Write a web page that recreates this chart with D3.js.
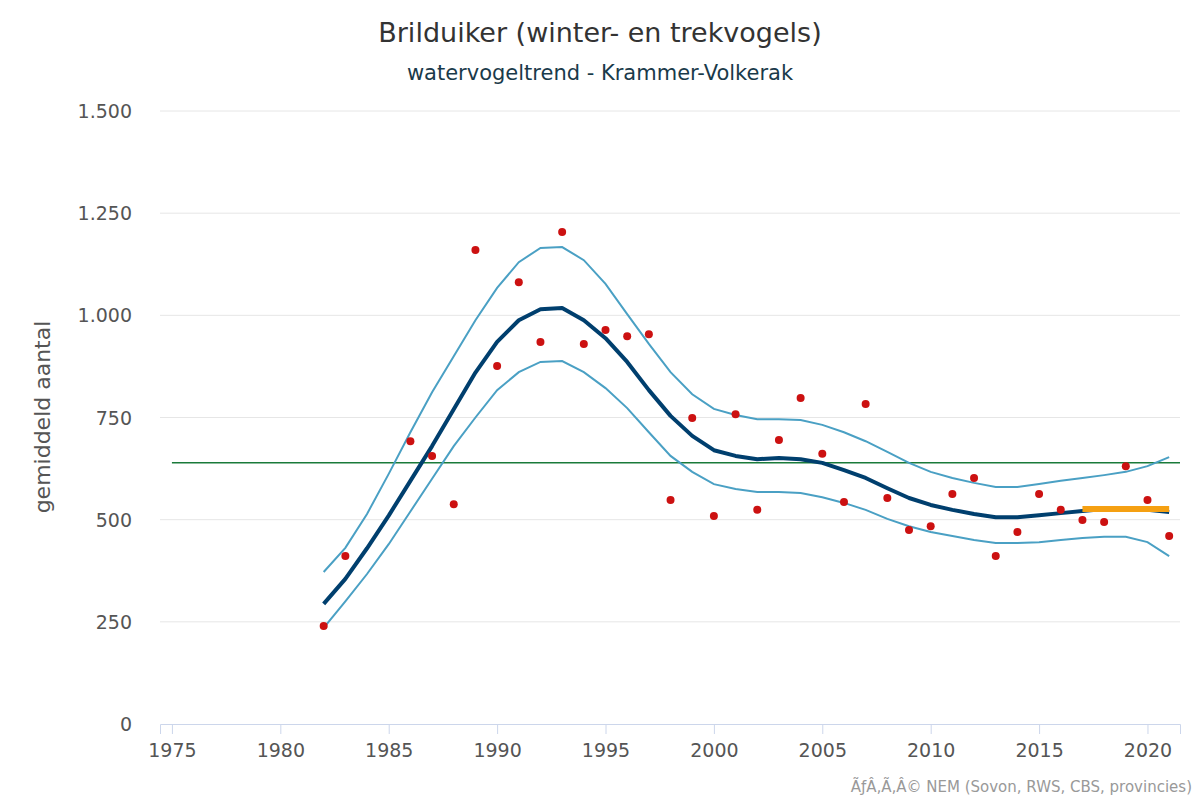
<!DOCTYPE html>
<html>
<head>
<meta charset="utf-8">
<script src="https://cdn.jsdelivr.net/npm/d3@7"></script>
<style>
body { margin: 0; background: #fff; font-family: "DejaVu Sans", sans-serif; }
</style>
</head>
<body>
<div id="chart"></div>
<script>
// data
var years = d3.range(1982, 2022);
var trend = [294, 355, 430, 510, 595, 680, 770, 860, 935, 988, 1015, 1018, 988, 944, 886, 817, 754, 705, 670, 656,
  648, 651, 648, 639, 621, 602, 577, 553, 536, 524, 514, 506, 506, 511, 516, 521, 526, 526, 524, 519];
var upper = [372, 431, 514, 612, 714, 812, 900, 988, 1067, 1130, 1165, 1167, 1135, 1077, 1003, 930, 861, 807, 771, 756,
  746, 746, 744, 732, 714, 692, 666, 639, 617, 602, 590, 580, 580, 587, 595, 602, 609, 617, 631, 653];
var lower = [235, 300, 367, 440, 520, 600, 680, 750, 817, 861, 886, 888, 861, 822, 773, 714, 656, 617, 587, 575,
  568, 568, 565, 555, 541, 524, 502, 484, 470, 460, 450, 443, 443, 445, 450, 455, 458, 458, 445, 411];
var pointYears = [1982, 1983, 1986, 1987, 1988, 1989, 1990, 1991, 1992, 1993, 1994, 1995, 1996, 1997, 1998, 1999, 2000,
  2001, 2002, 2003, 2004, 2005, 2006, 2007, 2008, 2009, 2010, 2011, 2012, 2013, 2014, 2015, 2016, 2017, 2018, 2019, 2020, 2021];
var pointValues = [240, 411, 692, 656, 538, 1160, 876, 1081, 935, 1204, 930, 964, 949, 954, 548, 749, 509,
  758, 524, 695, 798, 661, 543, 783, 553, 475, 484, 563, 602, 411, 470, 563, 524, 499, 494, 631, 548, 460];
var average = 639;
var recentYears = [2017, 2021];
var recentLevel = 526;
var xTicks = [1975, 1980, 1985, 1990, 1995, 2000, 2005, 2010, 2015, 2020];
var yTicks = [0, 250, 500, 750, 1000, 1250, 1500];

var width = 1200, height = 800;
var plotLeft = 160, plotRight = 1180, plotTop = 111, plotBottom = 724;

var svg = d3.select("#chart").append("svg").attr("width", width).attr("height", height);

var x = d3.scaleLinear().domain([1974.45, 2021.5]).range([plotLeft, plotRight]);
var y = d3.scaleLinear().domain([0, 1500]).range([plotBottom, plotTop]);
var fmt = function(v) { return d3.format(",")(v).replace(/,/g, "."); };

// grid
svg.append("g").selectAll("line").data(yTicks.slice(1)).enter().append("line")
    .attr("x1", plotLeft).attr("x2", plotRight)
    .attr("y1", d => y(d)).attr("y2", d => y(d))
    .attr("stroke", "#e6e6e6").attr("stroke-width", 1);

// y labels
svg.append("g").selectAll("text").data(yTicks).enter().append("text")
    .attr("x", 132).attr("y", d => y(d) + 7)
    .attr("text-anchor", "end")
    .attr("font-size", "19px").attr("fill", "#555")
    .text(d => fmt(d));

// x axis
var xAxis = d3.axisBottom(x).tickValues(xTicks).tickSize(10).tickFormat(d3.format("d"));
var gx = svg.append("g").attr("transform", `translate(0, ${plotBottom})`).call(xAxis);
gx.select(".domain").attr("stroke", "#ccd6eb");
gx.selectAll(".tick line").attr("stroke", "#ccd6eb");
gx.selectAll(".tick text").attr("font-size", "19px").attr("fill", "#555")
    .attr("font-family", "DejaVu Sans, sans-serif").attr("dy", "1.05em");

// average line
svg.append("line")
    .attr("x1", x(1975)).attr("x2", plotRight)
    .attr("y1", y(average)).attr("y2", y(average))
    .attr("stroke", "#1a7a3a").attr("stroke-width", 1.5);

var line = d3.line();

svg.append("path").attr("d", line(years.map((yr, i) => [x(yr), y(upper[i])])))
    .attr("fill", "none").attr("stroke", "#4aa0c4").attr("stroke-width", 2);
svg.append("path").attr("d", line(years.map((yr, i) => [x(yr), y(lower[i])])))
    .attr("fill", "none").attr("stroke", "#4aa0c4").attr("stroke-width", 2);
svg.append("path").attr("d", line(years.map((yr, i) => [x(yr), y(trend[i])])))
    .attr("fill", "none").attr("stroke", "#003f6e").attr("stroke-width", 4)
    .attr("stroke-linejoin", "round");

// recent level
svg.append("line")
    .attr("x1", x(recentYears[0])).attr("x2", x(recentYears[1]))
    .attr("y1", y(recentLevel)).attr("y2", y(recentLevel))
    .attr("stroke", "#f5a012").attr("stroke-width", 6);

// points
svg.append("g").selectAll("circle").data(pointYears).enter().append("circle")
    .attr("cx", d => x(d))
    .attr("cy", (d, i) => y(pointValues[i]))
    .attr("r", 4).attr("fill", "#cc1111");

// titles
svg.append("text").attr("x", 600).attr("y", 42).attr("text-anchor", "middle")
    .attr("font-size", "27px").attr("fill", "#333").text("Brilduiker (winter- en trekvogels)");
svg.append("text").attr("x", 600).attr("y", 80).attr("text-anchor", "middle")
    .attr("font-size", "21px").attr("fill", "#1a3a4a").text("watervogeltrend - Krammer-Volkerak");

svg.append("text")
    .attr("transform", "translate(50, 417) rotate(-90)")
    .attr("text-anchor", "middle")
    .attr("font-size", "22px").attr("fill", "#555").text("gemiddeld aantal");

svg.append("text").attr("x", 1192).attr("y", 792).attr("text-anchor", "end")
    .attr("font-size", "15px").attr("fill", "#999")
    .text("ÃƒÂ‚Ã‚Â© NEM (Sovon, RWS, CBS, provincies)");
</script>
</body>
</html>
